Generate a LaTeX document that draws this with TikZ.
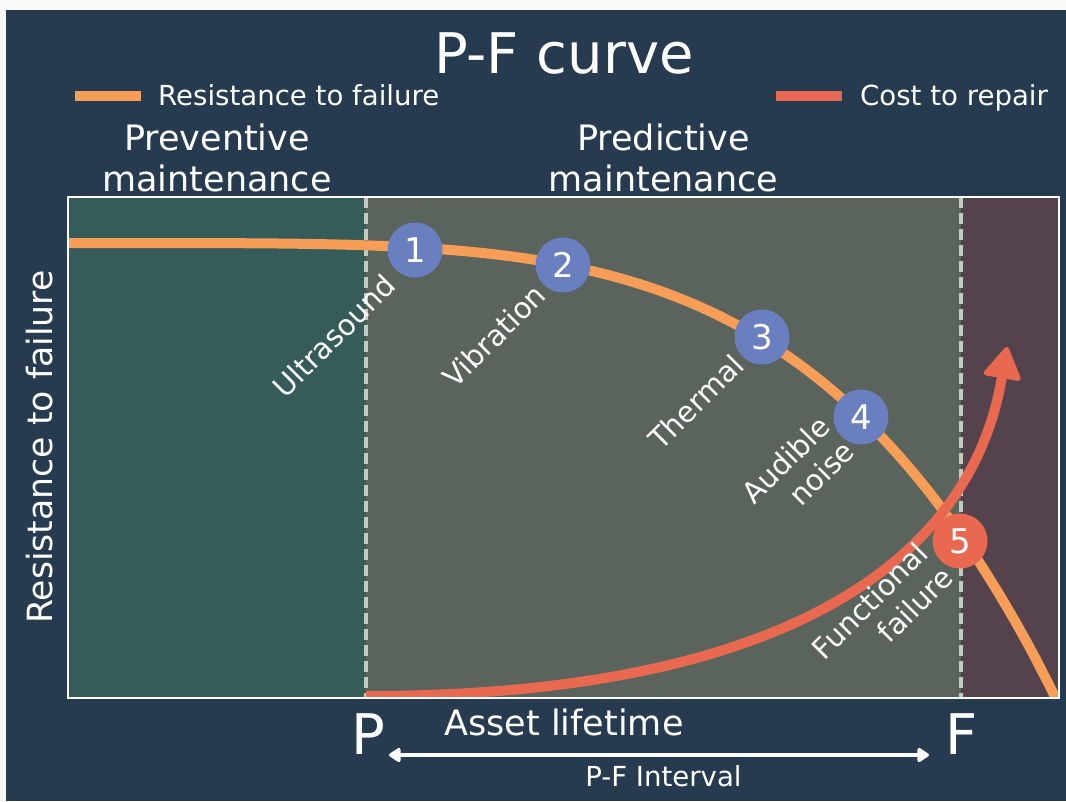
\documentclass[tikz,border=0pt]{standalone}
\usepackage{fontspec}
\setmainfont{DejaVu Sans}
\usetikzlibrary{arrows.meta}

\definecolor{pagebg}{RGB}{249,249,247}
\definecolor{navy}{RGB}{38,59,79}
\definecolor{zonepre}{RGB}{54,92,90}
\definecolor{zonepred}{RGB}{90,100,92}
\definecolor{zonefail}{RGB}{84,67,77}
\definecolor{resist}{RGB}{246,157,87}
\definecolor{cost}{RGB}{232,104,80}
\definecolor{stage}{RGB}{105,127,192}
\definecolor{marker}{RGB}{196,201,193}

\begin{document}
\begin{tikzpicture}[x=1pt,y=-1pt,
  txt/.style={text=white, inner sep=0pt},
  stagedot/.style={circle, fill=stage, minimum size=55pt, inner sep=0pt,
    text=white, font=\fontsize{34}{34}\selectfont},
  stagelab/.style={txt, rotate=45, align=right, font=\fontsize{29}{34.8}\selectfont},
  header/.style={txt, align=center, anchor=south, font=\fontsize{35}{41}\selectfont},
  legendline/.style={line width=10pt},
  pfline/.style={marker, line width=3.5pt, dash pattern=on 11pt off 5pt},
  curve/.style={line width=10pt}
]
\useasboundingbox (0,0) rectangle (1066,801);
\fill[pagebg] (0,0) rectangle (1066,801);
\fill[navy] (6,10) rectangle (1066,801);

% title and legend
\node[txt, anchor=base, font=\fontsize{56}{56}\selectfont] (title) at (564,73) {P-F curve};
\coordinate (lgA1) at (75,96);
\coordinate (lgA2) at (141,96);
\draw[resist, legendline] (lgA1) -- (lgA2);
\node[txt, anchor=base west, font=\fontsize{27.6}{32}\selectfont] (lgAtext) at (158,105) {Resistance to failure};
\coordinate (lgB1) at (776,96);
\coordinate (lgB2) at (842,96);
\draw[cost, legendline] (lgB1) -- (lgB2);
\node[txt, anchor=base west, font=\fontsize{27.6}{32}\selectfont] (lgBtext) at (860,105) {Cost to repair};

% zone headings
\node[header] (hpre) at (217,192) {Preventive\\maintenance};
\node[header] (hpred) at (663.5,192) {Predictive\\maintenance};

% zones
\fill[zonepre] (68,197) rectangle (366,698);
\fill[zonepred] (366,197) rectangle (961,698);
\fill[zonefail] (961,197) rectangle (1059,698);
\coordinate (Ptop) at (366,197);
\coordinate (Pbot) at (366,698);
\coordinate (Ftop) at (961,197);
\coordinate (Fbot) at (961,698);
\draw[pfline] (Ptop) -- (Pbot);
\draw[pfline] (Ftop) -- (Fbot);

% curves
\begin{scope}
  \clip (68,197) rectangle (1059,698);
  \draw[resist, curve] (60,243) -- plot[domain=0.02:10.1, samples=150]
    ({68+99.1*\x}, {243+462*(\x/10)^4.4});
  \coordinate (costStart) at (366,696);
  \coordinate (costTip) at (1007,347);
  \draw[cost, curve, -{Triangle[length=34pt,width=40pt,line width=5pt,round]}]
    (costStart) .. controls (754,696) and (968,579) .. (costTip);
\end{scope}
\draw[white, line width=2pt] (68,197) rectangle (1059,698);

% stages on the curve
\node[stagedot] (s1) at (415,250) {1};
\node[stagedot] (s2) at (563,265) {2};
\node[stagedot] (s3) at (762,337) {3};
\node[stagedot] (s4) at (861,417) {4};
\node[stagedot, fill=cost] (s5) at (960,541) {5};

\node[stagelab] (l1) at (334,336) {Ultrasound};
\node[stagelab] (l2) at (494,336) {Vibration};
\node[stagelab] (l3) at (696,402) {Thermal};
\node[stagelab] (l4) at (798,472) {Audible\\noise};
\node[stagelab] (l5) at (882,613) {Functional\\failure};

% axis texts
\node[txt, rotate=90, anchor=base, font=\fontsize{34.7}{40}\selectfont] (ylab) at (52,447) {Resistance to failure};
\node[txt, anchor=base, font=\fontsize{56}{56}\selectfont] (P) at (368,754) {P};
\node[txt, anchor=base, font=\fontsize{56}{56}\selectfont] (F) at (962,754) {F};
\node[txt, anchor=base, font=\fontsize{35}{40}\selectfont] (life) at (564,735) {Asset lifetime};
\coordinate (ivA) at (389,755);
\coordinate (ivB) at (929,755);
\draw[white, line width=4pt, {Triangle[length=13pt,width=16pt,round]}-{Triangle[length=13pt,width=16pt,round]}] (ivA) -- (ivB);
\node[txt, anchor=base, font=\fontsize{27.6}{32}\selectfont] (pf) at (663.5,786) {P-F Interval};
\end{tikzpicture}
\end{document}
